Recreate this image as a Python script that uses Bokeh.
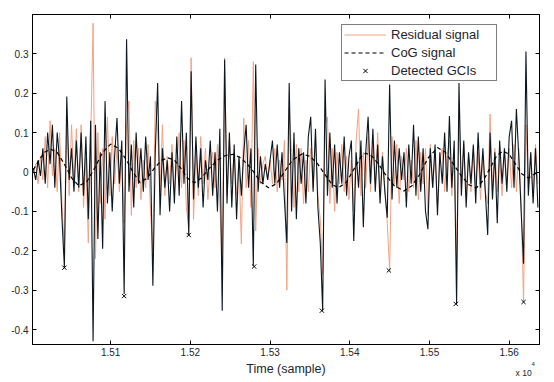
from bokeh.plotting import figure
from bokeh.models import (Range1d, FixedTicker, LinearAxis, Label, Legend, LegendItem,
                          PrintfTickFormatter, CustomLabelingPolicy)
from bokeh.embed import file_html
from bokeh.resources import INLINE

# ---------------- data ----------------
x_start = 15003          # first sample shown
x_step = 3               # samples between stored values

residual_signal = [
    0.0, 0.02, -0.03, 0.04, -0.02, 0.09, -0.04, 0.13, -0.01, 0.06,
    -0.05, 0.10, -0.08, -0.20, 0.14, -0.06, 0.12, -0.03, 0.11, -0.05,
    0.12, -0.09, 0.04, -0.18, 0.08, 0.378, -0.22, 0.10, -0.08, 0.06,
    -0.12, 0.14, -0.06, 0.09, -0.03, 0.06, -0.05, 0.04, -0.13, 0.12,
    0.18, -0.11, 0.08, -0.04, 0.06, -0.07, 0.03, -0.04, 0.07, -0.10,
    -0.20, 0.18, 0.10, -0.05, 0.12, -0.06, 0.04, -0.03, 0.07, -0.05,
    0.02, 0.10, -0.04, 0.08, -0.09, -0.14, 0.29, -0.12, 0.05, -0.06,
    0.09, -0.03, 0.06, -0.07, 0.02, 0.05, -0.04, 0.07, -0.08, -0.24,
    0.29, -0.06, 0.08, -0.03, 0.05, -0.06, 0.03, -0.183, 0.137, -0.04,
    0.08, -0.09, 0.28, -0.15, 0.06, -0.03, 0.02, 0.04, -0.02, 0.03,
    -0.03, 0.06, -0.05, 0.03, -0.02, 0.08, -0.30, 0.163, 0.05, -0.09,
    0.07, -0.05, 0.06, -0.08, 0.03, -0.05, 0.06, -0.04, 0.08, -0.06,
    -0.12, -0.26, 0.12, 0.14, -0.08, 0.06, -0.10, 0.05, -0.03, 0.07,
    -0.05, 0.04, -0.07, 0.03, -0.10, 0.08, 0.16, -0.06, 0.05, -0.04,
    0.09, -0.05, 0.07, -0.03, 0.10, -0.06, 0.05, -0.04, -0.13, -0.25,
    0.09, -0.03, 0.07, -0.08, 0.04, -0.02, 0.06, -0.05, 0.03, -0.04,
    0.08, -0.07, 0.05, -0.03, 0.06, -0.11, 0.07, -0.04, 0.05, -0.09,
    0.03, 0.06, -0.05, 0.04, 0.08, -0.06, 0.05, -0.22, 0.15, -0.04,
    0.07, -0.06, 0.04, -0.05, 0.06, -0.03, 0.05, -0.07, 0.04, -0.05,
    -0.08, 0.147, -0.04, 0.06, -0.05, 0.04, -0.06, 0.05, -0.03, 0.06,
    -0.04, 0.07, -0.05, 0.06, -0.08, -0.33, 0.12, -0.04, 0.05, -0.06,
    0.07, -0.03,
]

speech_signal = [
    0.01, -0.02, 0.03, -0.01, 0.06, -0.03, 0.10, 0.02, 0.12, -0.04,
    0.10, 0.03, -0.12, -0.242, 0.192, -0.02, 0.06, -0.05, 0.08, -0.04,
    0.10, -0.06, 0.09, -0.12, 0.13, -0.43, 0.12, -0.17, 0.05, -0.195,
    0.18, -0.08, 0.05, -0.10, 0.04, 0.137, -0.03, 0.08, -0.31, 0.337,
    -0.05, 0.07, -0.09, 0.10, -0.03, 0.06, -0.05, 0.09, -0.02, 0.04,
    -0.289, 0.05, 0.226, -0.11, 0.06, -0.04, 0.03, -0.10, 0.05, -0.08,
    0.09, -0.06, 0.18, -0.03, 0.10, -0.162, 0.256, -0.07, 0.09, -0.04,
    0.06, -0.09, 0.03, -0.02, 0.08, -0.06, 0.05, -0.10, 0.11, -0.352,
    0.286, -0.08, 0.10, -0.09, 0.07, -0.12, 0.04, -0.06, 0.05, 0.12,
    -0.04, 0.06, -0.238, 0.273, -0.05, 0.04, -0.03, 0.02, -0.02, 0.03,
    0.08, -0.03, 0.07, -0.04, 0.05, -0.07, -0.18, 0.226, -0.10, 0.10,
    -0.12, 0.06, -0.03, 0.05, -0.08, 0.09, 0.14, -0.05, 0.11, -0.09,
    -0.18, -0.352, 0.235, -0.06, 0.10, -0.04, 0.07, -0.08, 0.05, -0.03,
    0.09, -0.06, 0.04, 0.08, -0.175, 0.05, -0.04, 0.08, -0.14, 0.05,
    0.14, -0.03, 0.11, -0.05, 0.07, -0.08, 0.04, -0.05, -0.116, 0.222,
    -0.07, 0.08, -0.04, 0.06, -0.02, 0.05, -0.09, 0.07, -0.03, 0.12,
    -0.06, 0.09, -0.05, 0.06, -0.10, -0.145, 0.06, -0.04, 0.07, -0.11,
    0.05, -0.03, 0.10, -0.05, 0.142, -0.04, 0.08, -0.335, 0.226, -0.06,
    0.08, -0.09, 0.05, -0.03, 0.07, -0.08, 0.10, -0.04, 0.06, -0.05,
    -0.16, 0.10, -0.07, 0.05, -0.13, 0.08, -0.03, 0.06, -0.05, 0.09,
    0.13, -0.04, 0.16, 0.04, -0.10, -0.233, 0.306, -0.06, 0.05, -0.08,
    0.06, -0.09,
]

cog_x = [15003, 15010, 15017, 15025, 15033, 15042, 15051, 15060, 15070, 15080,
         15090, 15100, 15110, 15120, 15128, 15137, 15146, 15155, 15164, 15172,
         15180, 15188, 15196, 15205, 15214, 15224, 15234, 15244, 15254, 15264,
         15276, 15288, 15298, 15308, 15318, 15328, 15340, 15350, 15360, 15370,
         15378, 15386, 15396, 15406, 15414, 15420, 15428, 15436, 15446, 15456,
         15468, 15478, 15488, 15498, 15510, 15520, 15530, 15540, 15550, 15559,
         15568, 15576, 15584, 15592, 15600, 15608, 15616, 15624, 15632, 15637]
cog_y = [0.005, 0.03, 0.05, 0.058, 0.05, 0.02, -0.015, -0.035, -0.025, 0.01,
         0.05, 0.071, 0.06, 0.03, 0.0, -0.027, -0.015, 0.01, 0.03, 0.036,
         0.03, 0.01, -0.015, -0.027, -0.015, 0.01, 0.03, 0.042, 0.045, 0.035,
         0.01, -0.025, -0.04, -0.03, 0.0, 0.03, 0.046, 0.04, 0.02, -0.01,
         -0.032, -0.04, -0.025, 0.01, 0.038, 0.048, 0.04, 0.02, -0.01, -0.035,
         -0.048, -0.035, -0.005, 0.035, 0.062, 0.05, 0.02, -0.01, -0.033, -0.04,
         -0.02, 0.01, 0.04, 0.053, 0.045, 0.02, -0.005, -0.015, -0.005, 0.0]

gci_x = [15042, 15117, 15198, 15280, 15365, 15449, 15533, 15618]
gci_y = [-0.243, -0.315, -0.16, -0.24, -0.352, -0.25, -0.335, -0.33]

x_ticks = [15100, 15200, 15300, 15400, 15500, 15600]
x_tick_labels = ["1.51", "1.52", "1.53", "1.54", "1.55", "1.56"]
y_ticks = [-0.4, -0.3, -0.2, -0.1, 0, 0.1, 0.2, 0.3]

sample = [x_start + x_step * i for i in range(len(residual_signal))]

# ---------------- figure ----------------
FONT = "Liberation Sans"
TXT = "#1c2530"
p = figure(frame_width=507, frame_height=330,
           x_range=Range1d(15002, 15638), y_range=Range1d(-0.438, 0.40),
           output_backend="svg", toolbar_location=None,
           min_border_left=32, min_border_right=14, min_border_top=14, min_border_bottom=37)
p.grid.visible = False
p.background_fill_color = "white"
p.border_fill_color = "white"
p.outline_line_color = "black"

no_labels = CustomLabelingPolicy(code="""
try { const all = Array.from(indices); for (const i of all) indices.unset(i); } catch (e) {}
return indices
""")


def style_axis(ax, show_labels=True):
    ax.major_tick_in = 4
    ax.major_tick_out = 0
    ax.minor_tick_line_color = None
    ax.axis_line_color = "black"
    ax.major_tick_line_color = "black"
    if show_labels:
        ax.major_label_text_font = FONT
        ax.major_label_text_font_size = "10px"
        ax.major_label_text_color = TXT
        ax.major_label_standoff = 3
    else:
        ax.major_label_policy = no_labels
        ax.major_label_text_font_size = "0px"
        ax.major_label_standoff = 0


p.xaxis.ticker = FixedTicker(ticks=x_ticks)
p.xaxis.major_label_overrides = dict(zip(x_ticks, x_tick_labels))
p.yaxis.ticker = FixedTicker(ticks=y_ticks)
p.yaxis.formatter = PrintfTickFormatter(format="%g")
style_axis(p.xaxis[0])
style_axis(p.yaxis[0])
p.yaxis.major_label_standoff = 4
p.xaxis.axis_label = "Time (sample)"
p.xaxis.axis_label_standoff = 3
p.xaxis.axis_label_text_font = FONT
p.xaxis.axis_label_text_font_size = "12.5px"
p.xaxis.axis_label_text_font_style = "normal"
p.xaxis.axis_label_text_color = TXT

top_ax = LinearAxis(ticker=FixedTicker(ticks=x_ticks))
right_ax = LinearAxis(ticker=FixedTicker(ticks=y_ticks))
style_axis(top_ax, False)
style_axis(right_ax, False)
p.add_layout(top_ax, "above")
p.add_layout(right_ax, "right")

r_res = p.line(sample, residual_signal, line_color="#f4a184", line_width=1)
p.line(sample, speech_signal, line_color="#0b1820", line_width=1.1)
r_cog = p.line(cog_x, cog_y, line_color="black", line_width=1.2, line_dash="4 3")
r_gci = p.scatter(gci_x, gci_y, marker="x", size=6, line_color="black", line_width=1)

legend = Legend(items=[LegendItem(label="Residual signal", renderers=[r_res]),
                       LegendItem(label="CoG signal", renderers=[r_cog]),
                       LegendItem(label="Detected GCIs", renderers=[r_gci])],
                location=(309, 263), margin=0, padding=2, spacing=3,
                glyph_width=42, glyph_height=15, label_height=15, label_width=103,
                label_standoff=5, label_text_font=FONT, label_text_font_size="13px",
                label_text_color=TXT, border_line_color="black", border_line_width=0.8,
                background_fill_color="white", background_fill_alpha=1.0)
p.add_layout(legend)

# axis multiplier "x 10^4" (side panels are not clipped to the frame)
p.add_layout(Label(x=15608, y=-0.511, text="x 10", text_align="left",
                   text_baseline="middle", text_font=FONT, text_font_size="8.5px",
                   text_color=TXT), "above")
p.add_layout(Label(x=15628, y=-0.487, text="4", text_align="left",
                   text_baseline="middle", text_font=FONT, text_font_size="6px",
                   text_color=TXT), "right")

open("out.html", "w").write(file_html(p, INLINE))
